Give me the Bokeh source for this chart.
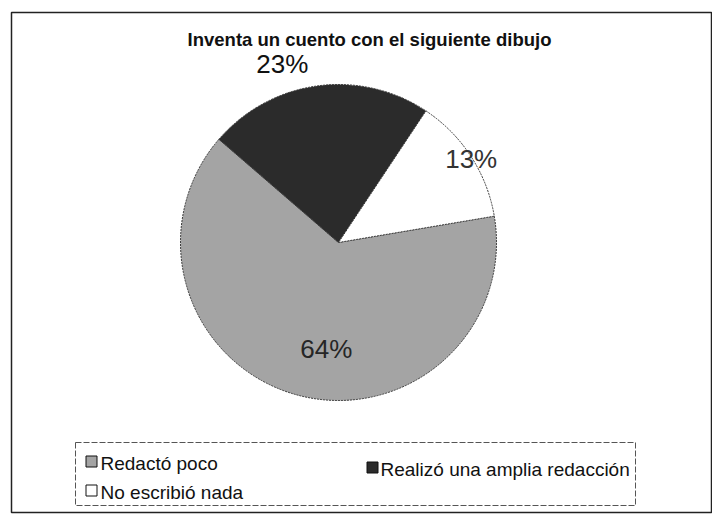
import math
from bokeh.plotting import figure
from bokeh.models import Range1d, ColumnDataSource
from bokeh.core.properties import value
from bokeh.embed import file_html
from bokeh.resources import INLINE

# ---- data ----
title = "Inventa un cuento con el siguiente dibujo"
categories = ["Redactó poco", "Realizó una amplia redacción", "No escribió nada"]
percentages = [64, 23, 13]
colors = ["#a4a4a4", "#2b2b2b", "#ffffff"]

# ---- layout (page pixel coordinates, y downward) ----
W, H = 712, 514
def Y(py):
    return H - py

cx, cy, R = 338, 242, 158
start_deg = 9.6
label_radius = [107, 187, 157]
label_shift_deg = [9.1, 9.7, -0.7]
legend_icon_xy = [(91, 461), (372, 467), (91, 490)]
legend_text_xy = [(100, 463), (380, 469), (100, 492)]

p = figure(width=W, height=H, output_backend="svg", toolbar_location=None,
           x_range=Range1d(0, W), y_range=Range1d(0, H),
           x_axis_type=None, y_axis_type=None, min_border=0)
p.grid.visible = False
p.outline_line_color = None
p.background_fill_color = "white"
p.border_fill_color = "white"

# outer frame
p.quad(left=[11], right=[711], top=[Y(12)], bottom=[Y(512)],
       fill_color=None, line_color="#222222", line_width=1.5)

# pie wedges
total = sum(percentages)
starts, ends, mids = [], [], []
a = math.radians(start_deg)
for v in percentages:
    span = 2 * math.pi * v / total
    starts.append(a)
    ends.append(a - span)
    mids.append(a - span / 2)
    a -= span

src = ColumnDataSource(dict(x=[cx] * len(percentages), y=[Y(cy)] * len(percentages),
                            start=starts, end=ends, color=colors))
p.wedge(x="x", y="y", radius=R, start_angle="start", end_angle="end",
        direction="clock", fill_color="color", line_color="#3a3a3a",
        line_width=1, line_dash="2 1", source=src)

# percentage labels
lx, ly, lt = [], [], []
for i, v in enumerate(percentages):
    ang = mids[i] + math.radians(label_shift_deg[i])
    lx.append(cx + label_radius[i] * math.cos(ang))
    ly.append(Y(cy) + label_radius[i] * math.sin(ang))
    lt.append(f"{v}%")
text_colors = ["#262626", "#111111", "#333333"]
p.text(x=lx, y=ly, text=lt, text_align="center", text_baseline="middle",
       text_font=value("Liberation Sans"), text_font_size="26px",
       text_color=text_colors)

# title
p.text(x=[369], y=[Y(39)], text=[title], text_align="center",
       text_baseline="alphabetic", text_font=value("Liberation Sans"),
       text_font_size="18.5px", text_font_style="bold", text_color="#111111")

# legend box
p.quad(left=[75], right=[635], top=[Y(442)], bottom=[Y(505)],
       fill_color=None, line_color="#555555", line_width=1, line_dash="6 2")

# legend entries
p.rect(x=[q[0] for q in legend_icon_xy], y=[Y(q[1]) for q in legend_icon_xy],
       width=11, height=11, fill_color=colors, line_color="#111111", line_width=1)
p.text(x=[q[0] for q in legend_text_xy], y=[Y(q[1]) for q in legend_text_xy],
       text=categories, text_align="left", text_baseline="alphabetic",
       text_font=value("Liberation Sans"), text_font_size="19px",
       text_color="#111111")

open("out.html", "w").write(file_html(p, INLINE))
